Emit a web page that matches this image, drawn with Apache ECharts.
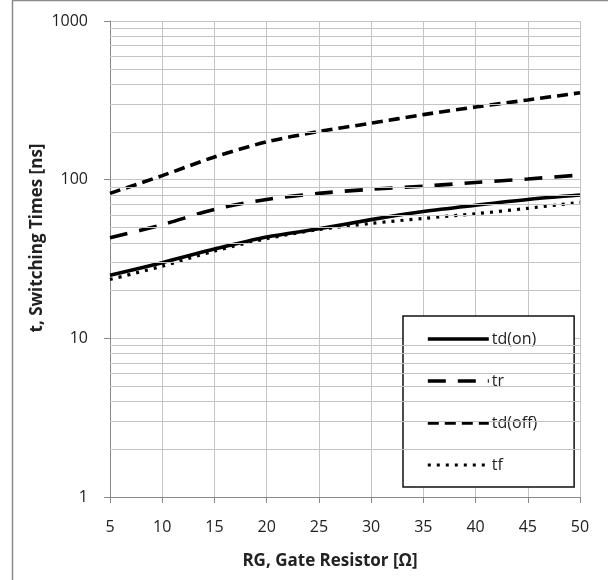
<!DOCTYPE html>
<html>
<head>
<meta charset="utf-8">
<script src="https://cdn.jsdelivr.net/npm/echarts@6/dist/echarts.min.js"></script>
<style>
html,body{margin:0;padding:0;background:#fff;}
#chart{width:608px;height:580px;}
</style>
</head>
<body>
<div id="chart"></div>
<script>
const xValues = [5, 10, 15, 20, 25, 30, 35, 40, 45, 50];
const tdOn  = [25, 30, 36.5, 43.5, 49, 56, 63, 69, 75, 80];
const tr    = [43, 52, 65, 75, 82, 87, 91, 96, 101, 107];
const tdOff = [82, 106, 139, 173, 201, 227, 257, 287, 318, 353];
const tf    = [23.5, 28.5, 35.5, 42.5, 48.5, 53, 57, 61, 66, 72];
const minorGridValues = [2,3,4,5,6,7,8,9,20,30,40,50,60,70,80,90,200,300,400,500,600,700,800,900];
const xTitle = 'RG, Gate Resistor [Ω]';
const yTitle = 't, Switching Times [ns]';

const FONT = '"Open Sans", sans-serif';
const pairs = arr => xValues.map((x, i) => [x, arr[i]]);

const styles = {
  'td(on)':  {color: '#000', width: 3.6, type: 'solid'},
  'tr':      {color: '#000', width: 3.6, type: [18, 12]},
  'td(off)': {color: '#000', width: 3.6, type: [11, 6]},
  'tf':      {color: '#000', width: 3.2, type: [3, 6]}
};

const chart = echarts.init(document.getElementById('chart'), null, {renderer: 'canvas'});
const mkSeries = (name, arr) => ({
  type: 'line', name: name, data: pairs(arr), showSymbol: false, symbol: 'none',
  smooth: 0.3, z: 3,
  lineStyle: styles[name], itemStyle: {color: '#000'}
});

chart.setOption({
  animation: false,
  backgroundColor: '#fff',
  grid: {left: 110, right: 28, top: 21, bottom: 83},
  xAxis: {
    type: 'value', min: 5, max: 50, interval: 5,
    axisLine: {show: true, onZero: false, lineStyle: {color: '#888', width: 1}},
    axisTick: {show: true, length: 6, lineStyle: {color: '#888'}},
    axisLabel: {margin: 22, color: '#222', fontFamily: FONT, fontSize: 16},
    splitLine: {show: true, lineStyle: {color: '#c4c4c4', width: 1}}
  },
  yAxis: {
    type: 'log', logBase: 10, min: 1, max: 1000,
    axisLine: {show: true, onZero: false, lineStyle: {color: '#888', width: 1}},
    axisTick: {show: true, length: 6, lineStyle: {color: '#888'}},
    axisLabel: {margin: 22, color: '#222', fontFamily: FONT, fontSize: 16,
      formatter: v => String(Math.round(v))},
    splitLine: {show: true, lineStyle: {color: '#c4c4c4', width: 1}}
  },
  legend: {
    orient: 'vertical', left: 403, top: 316,
    padding: [15, 37, 14, 23],
    itemWidth: 61, itemHeight: 14, itemGap: 26,
    backgroundColor: '#fff', borderColor: '#111', borderWidth: 1.5,
    itemStyle: {color: 'rgba(0,0,0,0)', borderColor: 'rgba(0,0,0,0)', borderWidth: 0, opacity: 0},
    textStyle: {fontFamily: FONT, fontSize: 16, color: '#222', padding: [0, 0, 0, -2]},
    data: ['td(on)', 'tr', 'td(off)', 'tf'].map(n => ({name: n, lineStyle: styles[n]}))
  },
  graphic: [
    {type: 'rect', shape: {x: 12.5, y: 0.5, width: 700, height: 700}, style: {fill: 'none', stroke: '#8a8a8a', lineWidth: 1.5}, silent: true, z: 100},
    {type: 'text', x: 330, y: 561, style: {text: xTitle, font: 'bold 17px "Open Sans", sans-serif', fill: '#222', textAlign: 'center', textVerticalAlign: 'middle'}},
    {type: 'text', x: 37, y: 238, rotation: Math.PI / 2, style: {text: yTitle, font: 'bold 17px "Open Sans", sans-serif', fill: '#222', textAlign: 'center', textVerticalAlign: 'middle'}}
  ],
  series: [
    {
      type: 'line', data: [], z: 1, silent: true,
      markLine: {
        silent: true, symbol: 'none', animation: false,
        label: {show: false},
        lineStyle: {color: '#c4c4c4', width: 1, type: 'solid'},
        data: minorGridValues.map(v => ({yAxis: v}))
      }
    },
    mkSeries('td(on)', tdOn),
    mkSeries('tr', tr),
    mkSeries('td(off)', tdOff),
    mkSeries('tf', tf)
  ]
});
</script>
</body>
</html>
